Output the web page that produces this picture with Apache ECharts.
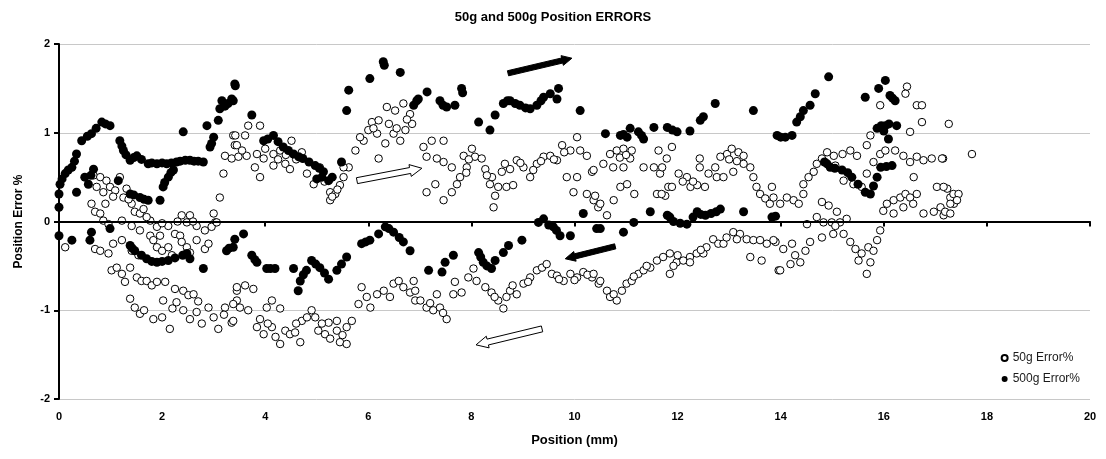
<!DOCTYPE html>
<html><head><meta charset="utf-8">
<script src="https://cdn.jsdelivr.net/npm/echarts@6/dist/echarts.min.js"></script>
<style>html,body{margin:0;padding:0;background:#fff}#c{width:1106px;height:459px}</style>
</head><body><div id="c"></div>
<script>
const title = '50g and 500g Position ERRORS';
const xTicks = [0,2,4,6,8,10,12,14,16,18,20];
const yTicks = [-2,-1,0,1,2];

// 50g Error% : forward pass (upper bands)
const e50fwdA = [[0.67,0.52],[0.8,0.5],[0.92,0.46],[0.73,0.39],[0.86,0.33],[0.63,0.2],[0.7,0.11],[0.8,0.09],[0.99,0.39],[1.09,0.35],[1.18,0.5],[1.25,0.27],[1.31,0.37],[1.41,0.2],[1.47,0.11],[1.57,0.09],[1.64,0.14],[0.86,0.01],[0.96,-0.03],[1.22,0.01],[1.41,-0.05],[1.57,-0.1],[1.77,0.01],[1.9,-0.06],[1.96,-0.16],[2.12,-0.05],[2.25,-0.14],[2.38,0.07],[2.48,-0.01],[2.54,0.07],[2.67,-0.05],[2.83,-0.1],[3.0,0.09],[3.03,-0.01],[1.05,0.28],[1.35,0.25],[0.9,0.2],[1.7,0.05],[2.0,-0.02],[2.3,0.0],[2.6,0.0]];
const e50fwdB = [[3.38,0.97],[3.41,0.86],[3.22,0.74],[3.35,0.71],[3.19,0.54],[3.12,0.27],[3.42,0.97],[3.61,0.97],[3.9,1.08],[3.67,1.08],[3.45,0.86],[3.48,0.73],[3.64,0.74],[3.84,0.76],[3.97,0.71],[3.8,0.61],[3.9,0.5],[4.16,0.76],[4.16,0.63],[4.29,0.8],[4.39,0.65],[4.51,0.91],[4.48,0.59],[4.71,0.78],[4.81,0.54],[5.06,0.61],[4.94,0.42],[5.26,0.33],[5.26,0.24],[5.36,0.31],[5.45,0.41],[5.52,0.5],[5.62,0.61],[5.52,0.61],[5.75,0.8],[5.91,0.91],[6.07,1.12],[6.2,1.14],[6.36,1.29],[6.52,1.25],[6.68,1.33],[6.81,1.21],[6.17,0.99],[6.33,0.88],[6.49,0.99],[6.62,0.91],[6.72,1.03],[6.85,1.1],[6.0,1.03],[5.84,0.95],[6.2,0.71],[4.0,0.82],[4.6,0.7],[5.15,0.45],[5.4,0.36],[5.3,0.28],[6.1,1.05],[6.4,1.1],[6.55,1.05],[6.75,1.15],[3.55,0.8],[4.25,0.7],[4.4,0.75]];
const e50fwdC = [[7.07,0.84],[7.23,0.91],[7.46,0.91],[7.13,0.73],[7.33,0.71],[7.46,0.67],[7.62,0.61],[7.85,0.74],[8.01,0.82],[8.07,0.73],[8.2,0.71],[8.27,0.59],[7.91,0.61],[7.78,0.5],[7.72,0.42],[7.62,0.33],[7.46,0.24],[7.3,0.42],[7.13,0.33],[8.36,0.42],[8.46,0.29],[8.43,0.16],[8.59,0.56],[8.65,0.65],[8.75,0.59],[8.88,0.69],[9.01,0.61],[9.14,0.5],[9.27,0.65],[9.4,0.73],[9.53,0.74],[9.66,0.69],[9.76,0.86],[9.92,0.8],[10.05,0.95],[10.11,0.8],[10.24,0.74],[10.34,0.56],[8.52,0.39],[8.68,0.39],[8.81,0.41],[9.85,0.5],[10.05,0.5],[9.98,0.33],[10.24,0.31],[10.37,0.24],[10.46,0.16],[8.95,0.66],[9.2,0.58],[9.35,0.68],[9.6,0.7],[9.8,0.78],[8.4,0.5],[8.3,0.52],[7.9,0.55],[7.95,0.7]];
const e50fwdD = [[10.37,0.58],[10.56,0.65],[10.69,0.76],[10.82,0.8],[10.95,0.82],[11.11,0.8],[11.08,0.71],[10.95,0.61],[10.75,0.61],[10.4,0.29],[10.5,0.2],[10.63,0.07],[10.76,0.24],[10.89,0.39],[11.02,0.42],[11.16,0.31],[11.34,0.61],[11.54,0.61],[11.66,0.54],[11.7,0.61],[11.63,0.8],[11.79,0.71],[11.89,0.84],[11.6,0.31],[11.76,0.29],[11.82,0.39],[11.89,0.39],[12.02,0.54],[12.18,0.5],[12.25,0.39],[12.38,0.41],[12.53,0.39],[12.43,0.61],[12.43,0.71],[12.6,0.54],[12.73,0.61],[12.83,0.73],[12.96,0.76],[13.05,0.82],[13.18,0.78],[13.28,0.74],[12.76,0.5],[12.89,0.5],[13.08,0.56],[13.28,0.65],[13.41,0.61],[13.47,0.5],[13.53,0.39],[13.6,0.31],[13.7,0.26],[13.79,0.2],[13.83,0.39],[11.69,0.31],[10.88,0.72],[11.0,0.75],[12.1,0.45],[12.3,0.45],[13.0,0.7],[13.15,0.68]];
const e50fwdE = [[13.86,0.27],[13.99,0.2],[14.12,0.27],[14.25,0.24],[14.35,0.2],[14.44,0.31],[14.44,0.42],[14.54,0.5],[14.64,0.56],[14.7,0.65],[14.8,0.71],[14.9,0.78],[15.03,0.74],[15.2,0.76],[15.35,0.8],[15.48,0.74],[15.67,0.86],[15.06,0.63],[15.22,0.46],[15.41,0.42],[15.57,0.39],[15.67,0.54],[15.8,0.67],[15.93,0.76],[16.03,0.8],[16.22,0.8],[16.38,0.74],[16.51,0.67],[16.64,0.73],[16.77,0.69],[16.93,0.71],[17.15,0.71],[15.74,0.97],[15.93,1.31],[16.45,1.52],[16.42,1.44],[16.64,1.31],[16.74,1.31],[16.74,1.12],[16.51,1.01],[17.26,1.1],[16.58,0.5],[14.8,0.22],[14.93,0.18],[15.09,0.11],[14.7,0.05],[14.51,-0.03],[14.83,-0.01],[14.99,-0.01],[15.15,-0.01],[15.28,0.03],[15.99,0.12],[16.06,0.2],[16.19,0.24],[16.32,0.27],[16.42,0.31],[16.51,0.27],[16.64,0.31],[16.19,0.09],[16.38,0.16],[16.57,0.2],[16.77,0.09],[16.97,0.11],[17.1,0.16],[17.03,0.39],[17.23,0.37],[17.29,0.27],[17.36,0.2],[17.16,0.07],[17.71,0.76],[17.13,0.71],[17.16,0.39],[17.35,0.31],[17.45,0.31],[17.29,0.2],[17.42,0.24],[17.19,0.11],[17.29,0.09]];
// 50g Error% : return pass (lower bands)
const e50retA = [[0.12,-0.29],[0.7,-0.31],[0.8,-0.33],[0.96,-0.36],[1.05,-0.25],[1.22,-0.21],[1.41,-0.33],[1.54,-0.38],[1.77,-0.16],[1.83,-0.21],[1.9,-0.29],[2.0,-0.33],[2.12,-0.29],[2.19,-0.38],[2.35,-0.16],[2.38,-0.23],[2.48,-0.29],[2.54,-0.35],[2.67,-0.21],[2.83,-0.31],[2.9,-0.25],[2.96,-0.06],[3.06,-0.01],[1.02,-0.55],[1.12,-0.52],[1.22,-0.59],[1.28,-0.68],[1.38,-0.52],[1.51,-0.63],[1.6,-0.67],[1.7,-0.67],[1.8,-0.72],[1.9,-0.68],[2.06,-0.68],[2.25,-0.76],[2.41,-0.78],[2.51,-0.83],[2.61,-0.82],[1.38,-0.87],[1.47,-0.97],[1.57,-1.04],[1.83,-1.1],[2.0,-1.08],[2.15,-1.21],[2.02,-0.89],[2.28,-0.91],[2.41,-1.0],[2.54,-1.1],[2.67,-1.02],[2.77,-1.15],[2.9,-0.97],[3.0,-1.08],[3.09,-1.21],[3.22,-0.97],[3.35,-1.14],[3.45,-0.89],[3.45,-0.78]];
const e50retB = [[3.45,-0.74],[3.61,-0.72],[3.77,-0.76],[3.38,-0.93],[3.51,-0.97],[3.67,-1.0],[3.38,-1.12],[3.84,-1.19],[3.97,-1.27],[4.13,-1.19],[4.03,-0.97],[4.13,-0.89],[4.29,-0.98],[4.29,-1.38],[4.39,-1.23],[4.48,-1.27],[4.58,-1.25],[4.68,-1.36],[4.71,-1.12],[4.81,-1.08],[4.9,-1.0],[4.97,-1.08],[5.03,-1.23],[5.16,-1.27],[5.26,-1.32],[5.39,-1.23],[5.45,-1.36],[5.58,-1.38],[5.58,-1.19],[5.68,-1.12],[5.23,-1.14],[5.39,-1.12],[5.81,-0.93],[5.87,-0.74],[5.97,-0.85],[6.04,-0.97],[6.17,-0.82],[6.3,-0.78],[6.42,-0.85],[6.49,-0.7],[6.59,-0.67],[6.68,-0.74],[6.81,-0.8],[6.91,-0.89],[3.9,-1.1],[4.05,-1.15],[4.2,-1.3],[4.6,-1.15],[5.1,-1.15],[5.5,-1.28],[3.2,-1.05],[2.7,-0.9],[2.2,-0.98],[1.65,-1.0]];
const e50retC = [[6.88,-0.67],[6.91,-0.78],[7.01,-0.89],[7.13,-0.97],[7.26,-1.0],[7.39,-0.97],[7.52,-1.1],[7.33,-0.82],[7.65,-0.82],[7.81,-0.8],[7.68,-0.68],[7.94,-0.63],[8.1,-0.67],[8.27,-0.74],[8.39,-0.8],[8.52,-0.89],[8.62,-0.98],[8.68,-0.85],[8.75,-0.78],[8.88,-0.82],[9.01,-0.7],[9.14,-0.63],[9.27,-0.55],[9.37,-0.52],[9.46,-0.48],[9.56,-0.59],[9.66,-0.61],[9.79,-0.67],[9.92,-0.59],[10.05,-0.63],[10.17,-0.57],[10.34,-0.63],[10.47,-0.7],[8.04,-0.53],[7.2,-0.92],[7.45,-1.03],[8.45,-0.85],[8.8,-0.72],[9.1,-0.68],[9.7,-0.65],[10.0,-0.66],[10.25,-0.6]];
const e50retD = [[10.37,-0.59],[10.5,-0.67],[10.63,-0.78],[10.69,-0.85],[10.82,-0.89],[10.92,-0.78],[11.01,-0.7],[11.11,-0.67],[11.24,-0.59],[11.34,-0.55],[11.47,-0.52],[11.6,-0.44],[11.72,-0.4],[11.85,-0.36],[11.85,-0.59],[11.98,-0.46],[12.11,-0.44],[12.24,-0.4],[12.37,-0.36],[12.5,-0.36],[12.56,-0.29],[12.69,-0.2],[12.79,-0.25],[12.89,-0.25],[13.08,-0.12],[13.21,-0.14],[13.34,-0.2],[13.47,-0.21],[13.6,-0.21],[13.73,-0.25],[13.9,-0.23],[13.41,-0.4],[13.63,-0.44],[13.96,-0.55],[11.92,-0.5],[12.24,-0.46],[10.76,-0.82],[11.15,-0.62],[11.4,-0.5],[12.0,-0.38],[12.45,-0.32],[12.95,-0.18],[13.15,-0.2]];
const e50retE = [[13.86,-0.21],[14.05,-0.31],[14.22,-0.25],[14.28,-0.38],[14.19,-0.48],[13.99,-0.55],[14.38,-0.46],[14.48,-0.33],[14.57,-0.23],[14.8,-0.18],[15.02,-0.14],[15.06,-0.05],[15.22,-0.14],[15.35,-0.23],[15.45,-0.31],[15.51,-0.44],[15.57,-0.36],[15.67,-0.59],[15.7,-0.29],[15.8,-0.33],[15.87,-0.21],[15.93,-0.1],[15.74,-0.46]];

// 500g Error% : forward pass
const e500fwdA = [[0,0.16],[0,0.31],[0.02,0.42],[0.06,0.48],[0.12,0.54],[0.18,0.58],[0.25,0.61],[0.3,0.68],[0.34,0.76],[0.44,0.91],[0.55,0.96],[0.63,0.99],[0.72,1.05],[0.83,1.12],[0.9,1.1],[0.99,1.08],[1.18,0.91],[1.22,0.85],[1.25,0.8],[1.3,0.75],[1.38,0.69],[1.45,0.72],[1.51,0.74],[1.6,0.7],[1.73,0.65],[1.8,0.66],[1.9,0.65],[2.0,0.66],[2.09,0.65],[2.18,0.66],[2.28,0.67],[2.35,0.68],[2.45,0.69],[2.54,0.69],[2.62,0.68],[2.7,0.68],[2.8,0.67],[2.93,0.84],[2.96,0.88],[3.0,0.95],[2.87,1.08],[3.09,1.14],[3.12,1.27],[3.16,1.36],[3.22,1.3],[3.28,1.33],[3.35,1.38],[3.41,1.55],[3.38,1.36],[3.42,1.53],[2.41,1.01]];
const e500fwdB = [[3.74,1.2],[3.97,0.91],[4.05,0.93],[4.16,0.97],[4.25,0.9],[4.35,0.84],[4.45,0.8],[4.55,0.76],[4.65,0.73],[4.73,0.71],[4.85,0.67],[4.97,0.63],[5.05,0.6],[5.13,0.56],[5.23,0.46],[5.0,0.48],[5.1,0.5],[5.3,0.5],[5.48,0.67],[5.58,1.25],[5.62,1.48],[6.03,1.61],[6.29,1.8],[6.31,1.76],[6.62,1.68],[6.94,1.36],[6.88,1.31],[6.97,1.38],[7.14,1.46],[7.39,1.36],[7.45,1.31],[7.52,1.29],[7.68,1.31],[7.81,1.5],[7.83,1.45],[8.14,1.12],[8.36,1.03],[8.46,1.2],[8.62,1.33],[8.7,1.36],[8.75,1.36],[8.85,1.33],[8.94,1.31],[9.05,1.28],[9.14,1.27],[9.27,1.31],[9.35,1.36],[9.4,1.4],[9.53,1.44],[9.69,1.5],[9.66,1.38],[10.11,1.25]];
const e500fwdC = [[10.6,0.99],[10.89,0.97],[10.95,0.98],[11.02,0.95],[11.08,1.05],[11.24,1.01],[11.3,0.97],[11.34,0.93],[11.54,1.06],[11.8,1.06],[11.9,1.03],[11.99,1.01],[12.24,1.02],[12.44,1.14],[12.5,1.18],[12.73,1.33],[13.47,1.25],[13.93,0.97],[14.0,0.95],[14.09,0.95],[14.22,0.97],[14.31,1.12],[14.38,1.18],[14.44,1.25],[14.57,1.31],[14.67,1.44],[14.93,1.63],[15.64,1.4],[15.9,1.5],[16.03,1.59],[16.12,1.42],[16.17,1.39],[16.22,1.36],[15.87,1.05],[15.95,1.08],[16.03,1.08],[16.1,1.1],[16.25,1.08],[16.09,0.93],[16.0,1.02]];
const e500fwdD = [[0.34,0.33],[0.5,0.5],[0.57,0.42],[0.67,0.59],[0.62,0.52],[1.15,0.46],[1.38,0.31],[1.45,0.3],[1.57,0.27],[1.65,0.25],[1.73,0.24],[1.96,0.24],[2.02,0.39],[2.05,0.44],[2.12,0.5],[2.17,0.55],[2.22,0.58],[14.85,0.67],[14.9,0.65],[14.96,0.61],[15.05,0.6],[15.19,0.58],[15.3,0.55],[15.38,0.5],[15.5,0.42],[15.64,0.33],[15.74,0.31],[15.8,0.4],[15.87,0.5],[15.94,0.61],[16.05,0.62],[16.16,0.63]];
// 500g Error% : return pass
const e500ret = [[0,-0.16],[0.25,-0.21],[0.6,-0.21],[0.63,-0.12],[0.99,-0.08],[1.38,-0.27],[1.42,-0.3],[1.47,-0.33],[1.6,-0.38],[1.7,-0.42],[1.8,-0.45],[1.9,-0.46],[2.0,-0.45],[2.12,-0.44],[2.25,-0.41],[2.4,-0.38],[2.48,-0.36],[2.54,-0.42],[2.8,-0.53],[3.25,-0.33],[3.3,-0.3],[3.38,-0.29],[3.41,-0.2],[3.58,-0.14],[3.74,-0.38],[3.8,-0.43],[3.84,-0.46],[4.03,-0.53],[4.1,-0.53],[4.19,-0.53],[4.55,-0.53],[4.64,-0.78],[4.68,-0.67],[4.74,-0.6],[4.8,-0.55],[4.9,-0.44],[4.98,-0.48],[5.06,-0.52],[5.15,-0.58],[5.23,-0.65],[5.39,-0.55],[5.48,-0.48],[5.58,-0.4],[5.87,-0.25],[5.95,-0.23],[6.03,-0.21],[6.2,-0.14],[6.33,-0.06],[6.4,-0.08],[6.49,-0.12],[6.6,-0.18],[6.68,-0.23],[6.81,-0.33],[7.17,-0.55],[7.43,-0.57],[7.49,-0.46],[7.65,-0.38],[8.14,-0.35],[8.18,-0.4],[8.23,-0.46],[8.3,-0.5],[8.39,-0.53],[8.46,-0.44],[8.62,-0.35],[8.72,-0.27],[8.98,-0.21],[9.3,-0.01],[9.4,0.03],[9.5,-0.04],[9.59,-0.06],[9.65,-0.1],[9.72,-0.16],[9.92,-0.16],[10.17,0.09],[10.43,-0.08],[10.5,-0.08],[10.95,-0.12],[11.15,-0.01],[11.47,0.11],[11.8,0.07],[11.85,0.05],[11.92,0.0],[12.05,-0.02],[12.18,-0.03],[12.3,0.05],[12.38,0.11],[12.45,0.08],[12.54,0.07],[12.65,0.09],[12.75,0.11],[12.83,0.14],[13.28,0.11],[13.83,0.05],[13.9,0.06]];

// Direction arrows: [x tail, y tail, x head, y head, filled(1)/open(0)]
const arrows = [[8.71,1.67,9.95,1.84,1],[10.79,-0.28,9.82,-0.42,1],[5.78,0.46,7.04,0.6,0],[9.37,-1.21,8.09,-1.39,0]];

const err50 = [].concat(e50fwdA,e50fwdB,e50fwdC,e50fwdD,e50fwdE,e50retA,e50retB,e50retC,e50retD,e50retE);
const err500 = [].concat(e500fwdA,e500fwdB,e500fwdC,e500fwdD,e500ret);

const NARROW = "'Liberation Sans Narrow','Arial Narrow','Liberation Sans',Arial,sans-serif";
const SANS = "'Liberation Sans',Arial,sans-serif";

const chart = echarts.init(document.getElementById('c'), null, {renderer:'canvas'});
chart.setOption({
  animation:false,
  backgroundColor:'#fff',
  title:{text:title,left:'center',top:6,textStyle:{fontFamily:NARROW,fontSize:13,fontWeight:'bold',color:'#000'}},
  grid:{left:59,right:16,top:44,bottom:60},
  legend:{
    data:[{name:'50g Error%'},{name:'500g Error%'}],
    orient:'vertical',right:21,top:347,itemWidth:6,itemHeight:6,itemGap:9,
    textStyle:{fontFamily:SANS,fontSize:12,color:'#1a1a1a'}
  },
  xAxis:{type:'value',min:0,max:20,interval:2,
    name:'Position (mm)',nameLocation:'middle',nameGap:35,
    nameTextStyle:{fontFamily:NARROW,fontSize:13,fontWeight:'bold',color:'#000'},
    axisLine:{lineStyle:{color:'#000',width:2}},
    axisTick:{lineStyle:{color:'#000',width:2},length:5},
    axisLabel:{fontFamily:NARROW,fontSize:11,fontWeight:'bold',color:'#000',margin:12},
    splitLine:{show:false}},
  yAxis:{type:'value',min:-2,max:2,interval:1,
    name:'Position Error %',nameLocation:'middle',nameGap:34,
    nameTextStyle:{fontFamily:SANS,fontSize:12,fontWeight:'bold',color:'#000'},
    axisLine:{show:true,lineStyle:{color:'#000',width:2}},
    axisTick:{show:true,lineStyle:{color:'#000',width:2},length:5},
    axisLabel:{fontFamily:NARROW,fontSize:11,fontWeight:'bold',color:'#000',margin:9},
    splitLine:{lineStyle:{color:'#c8c8c8',width:1}}},
  series:[
    {name:'50g Error%',type:'scatter',data:err50,symbol:'circle',symbolSize:7.5,
      itemStyle:{color:'#fff',borderColor:'#000',borderWidth:1,opacity:1},z:2,
      markLine:{silent:true,symbol:['none','none'],label:{show:false},
        lineStyle:{color:'#000',width:2,type:'solid',opacity:1},data:[{yAxis:0}]}},
    {name:'500g Error%',type:'scatter',data:err500,symbol:'circle',symbolSize:9,
      itemStyle:{color:'#000',opacity:1},z:3},
    {name:'arrows',type:'custom',data:arrows,encode:{x:[0,2],y:[1,3]},z:4,silent:true,
      renderItem:function(params,api){
        const p1=api.coord([api.value(0),api.value(1)]);
        const p2=api.coord([api.value(2),api.value(3)]);
        const filled=api.value(4)===1;
        const dx=p2[0]-p1[0],dy=p2[1]-p1[1];
        const L=Math.sqrt(dx*dx+dy*dy);
        const ux=dx/L,uy=dy/L,nx=-uy,ny=ux;
        const hw=filled?2.6:3,hh=filled?5:6,hl=filled?10:12;
        const nk=[p2[0]-ux*hl,p2[1]-uy*hl];
        const pts=[
          [p1[0]+nx*hw,p1[1]+ny*hw],[nk[0]+nx*hw,nk[1]+ny*hw],[nk[0]+nx*hh,nk[1]+ny*hh],
          [p2[0],p2[1]],
          [nk[0]-nx*hh,nk[1]-ny*hh],[nk[0]-nx*hw,nk[1]-ny*hw],[p1[0]-nx*hw,p1[1]-ny*hw]];
        return {type:'polygon',shape:{points:pts},
          style:{fill:filled?'#000':'#fff',stroke:'#000',lineWidth:1}};
      }}
  ]
});
</script></body></html>
